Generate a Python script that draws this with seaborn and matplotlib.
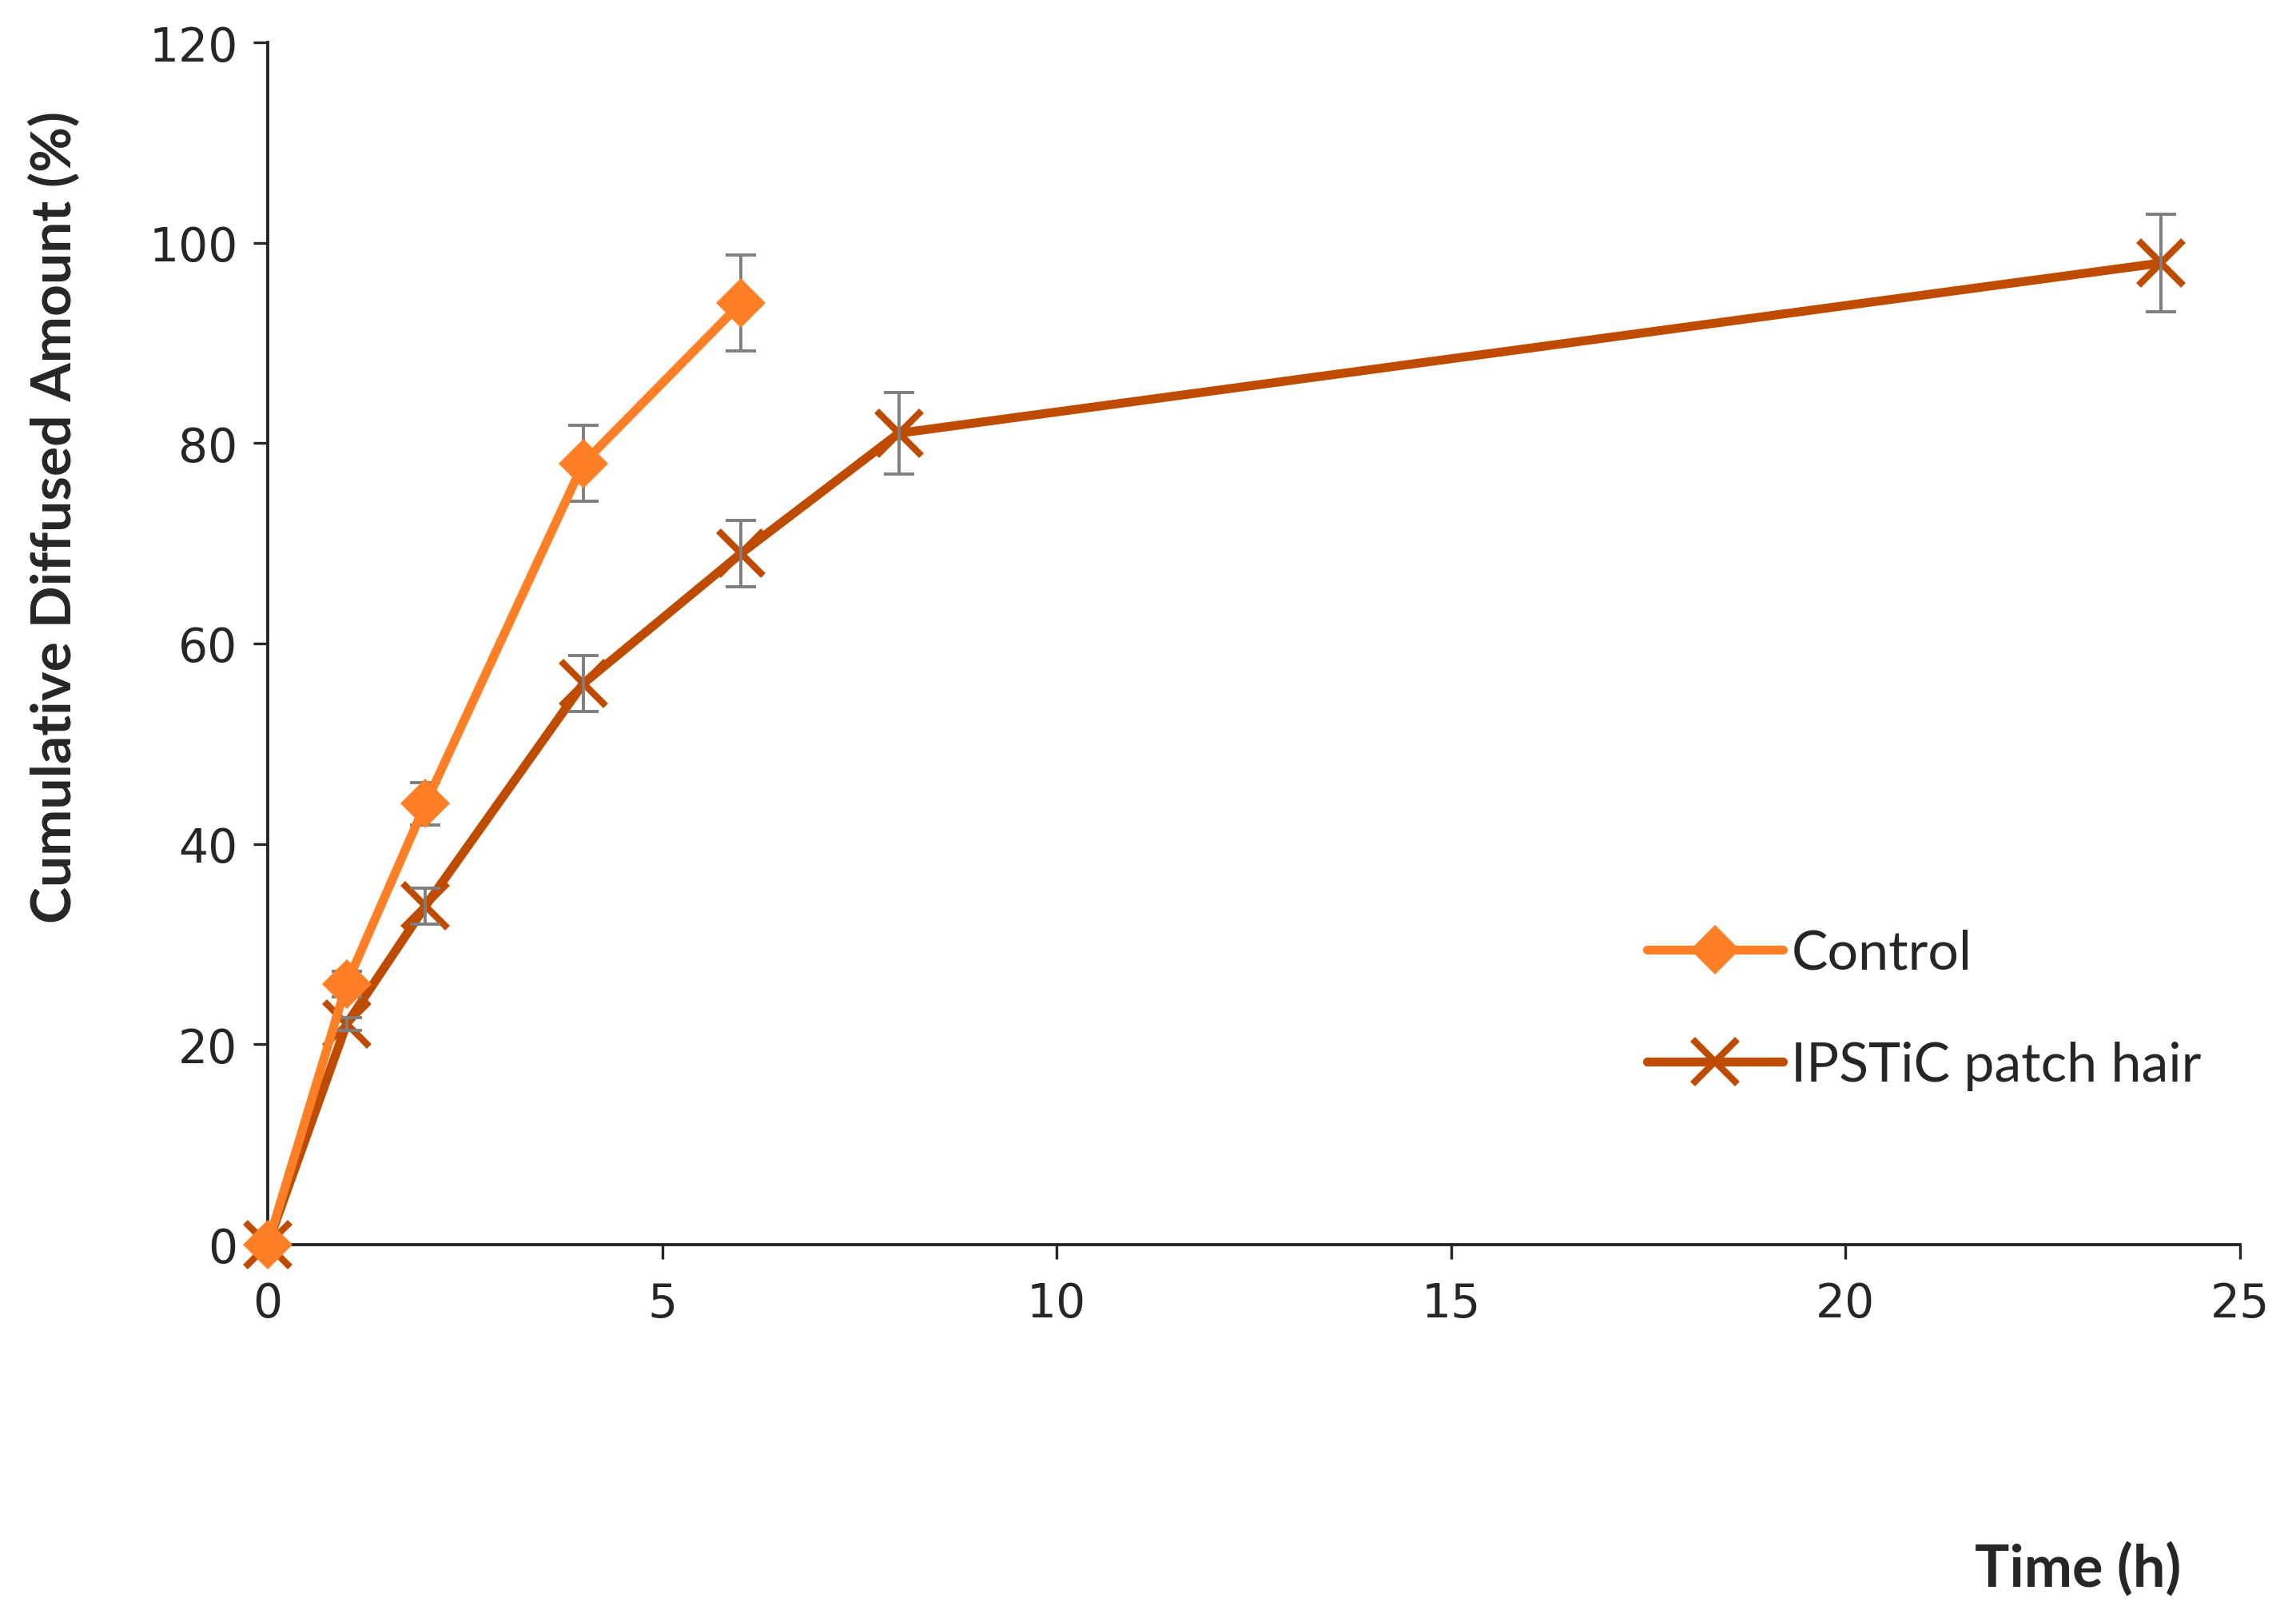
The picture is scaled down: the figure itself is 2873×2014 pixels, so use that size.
import numpy as np
import pandas as pd
import seaborn as sns
import matplotlib.pyplot as plt

# values
control_time = [0, 1, 2, 4, 6]
control_amount = [0, 26, 44, 78, 94]
control_err = [0, 1.3, 2.1, 3.8, 4.8]

patch_time = [0, 1, 2, 4, 6, 8, 24]
patch_amount = [0, 22, 33.8, 56, 69, 81, 98]
patch_err = [0, 0.6, 1.8, 2.8, 3.3, 4.1, 4.9]

control_color = "#FF7F27"
patch_color = "#BE4B00"
err_color = "#7F7F7F"

sns.set_style("ticks")
plt.rcParams['font.family'] = ['DejaVu Sans']

fig = plt.figure(figsize=(28.73, 20.15), dpi=100)
ax = fig.add_axes([0.1166, 0.227, 0.859, 0.746])

df_c = pd.DataFrame({'time': control_time, 'amount': control_amount})
df_p = pd.DataFrame({'time': patch_time, 'amount': patch_amount})

sns.lineplot(data=df_c, x='time', y='amount', ax=ax, color=control_color,
             linewidth=8, marker='D', markersize=32, markeredgewidth=0,
             label='Control', zorder=4, clip_on=False)
sns.lineplot(data=df_p, x='time', y='amount', ax=ax, color=patch_color,
             linewidth=8, marker='x', markersize=40, markeredgewidth=6,
             markeredgecolor=patch_color,
             label='IPSTiC patch hair', zorder=3, clip_on=False)

ax.errorbar(control_time, control_amount, yerr=control_err, fmt='none',
            ecolor=err_color, elinewidth=2.8, capsize=14, capthick=2.8, zorder=3.5)
ax.errorbar(patch_time, patch_amount, yerr=patch_err, fmt='none',
            ecolor=err_color, elinewidth=2.8, capsize=14, capthick=2.8, zorder=3.5)

ax.set_xlim(0, 25)
ax.set_ylim(0, 120)
ax.set_xticks([0, 5, 10, 15, 20, 25])
ax.set_yticks(np.arange(0, 121, 20))
ax.set_xlabel("")
ax.set_ylabel("")

for side in ['top', 'right']:
    ax.spines[side].set_visible(False)
for side in ['left', 'bottom']:
    ax.spines[side].set_linewidth(2.8)
    ax.spines[side].set_color("#262626")
ax.tick_params(axis='both', direction='out', length=13, width=2.4,
               colors="#262626", labelsize=42, pad=14)
ax.tick_params(axis='x', pad=20)

fig.text(0.0237, 0.679, "Cumulative Diffused Amount (%)", rotation=90,
         ha='center', va='center', fontsize=50, fontweight='bold',
         family=['Lato', 'DejaVu Sans'])
fig.text(0.905, 0.026, "Time (h)", ha='center', va='center',
         fontsize=52, fontweight='bold', family=['Lato', 'DejaVu Sans'])

leg = ax.legend(loc='center left', bbox_to_anchor=(0.7174, 0.3727),
                bbox_transform=fig.transFigure, frameon=False,
                borderpad=0, borderaxespad=0, handlelength=2.5,
                handletextpad=0.15, labelspacing=1.15,
                prop={'family': ['Lato', 'DejaVu Sans'], 'size': 49})

fig.savefig("out.png", dpi=100)
